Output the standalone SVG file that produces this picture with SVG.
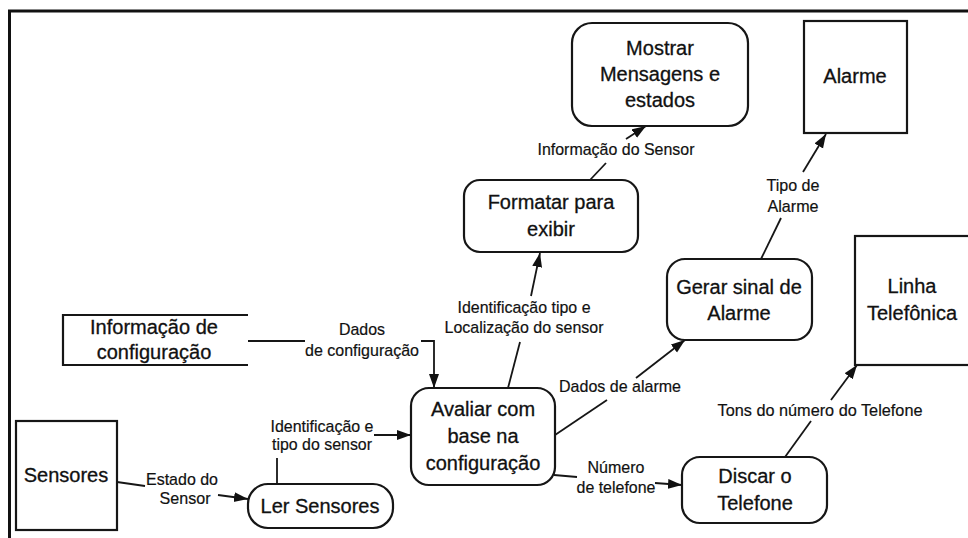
<svg xmlns="http://www.w3.org/2000/svg" width="968" height="538" viewBox="0 0 968 538">
<style>
.frame{stroke:#111;stroke-width:3;fill:none}
.box{fill:#fff;stroke:#161616;stroke-width:2.2}
.nt{font-family:"Liberation Sans",Arial,sans-serif;font-size:20px;text-anchor:middle;fill:#111;stroke:#111;stroke-width:0.3}
.lbl{font-family:"Liberation Sans",Arial,sans-serif;font-size:17px;text-anchor:middle;fill:#111;stroke:#111;stroke-width:0.2}
.c{stroke:#161616;stroke-width:1.8;fill:none}
.ca{stroke:#161616;stroke-width:1.8;fill:none;marker-end:url(#ah)}
</style>
<defs>
<marker id="ah" markerUnits="userSpaceOnUse" markerWidth="15" markerHeight="11" refX="14" refY="5" orient="auto">
<path d="M0,0 L14,5 L0,10 z" fill="#111"/>
</marker>
</defs>
<rect width="968" height="538" fill="#fff"/>
<g id="frame">
<line class="frame" x1="8" y1="11" x2="968" y2="11"/>
<line class="frame" x1="9.5" y1="10" x2="9.5" y2="538"/>
</g>
<g id="connectors">
<line class="c" x1="117" y1="482" x2="145" y2="486"/>
<line class="ca" x1="218" y1="495" x2="248" y2="499"/>
<line class="c" x1="277" y1="484" x2="277" y2="458"/>
<line class="ca" x1="374" y1="435" x2="411" y2="435"/>
<line class="c" x1="248" y1="341" x2="305" y2="341"/>
<polyline class="ca" points="421,341 434,341 434,388"/>
<line class="c" x1="508" y1="388" x2="520" y2="342"/>
<line class="ca" x1="531" y1="296" x2="540" y2="253"/>
<line class="c" x1="590" y1="180" x2="606" y2="163"/>
<line class="ca" x1="626" y1="139" x2="646" y2="126"/>
<line class="c" x1="555" y1="435" x2="607" y2="400"/>
<line class="ca" x1="636" y1="378" x2="685" y2="340"/>
<line class="c" x1="761" y1="259" x2="781" y2="218"/>
<line class="ca" x1="803" y1="172" x2="826" y2="134"/>
<line class="c" x1="554" y1="475" x2="577" y2="477"/>
<line class="ca" x1="655" y1="483" x2="682" y2="485"/>
<line class="c" x1="785" y1="457" x2="811" y2="421"/>
<line class="ca" x1="831" y1="400" x2="857" y2="365"/>
</g>
<g id="labels">
<text class="lbl" x="616" y="155" textLength="157" lengthAdjust="spacingAndGlyphs">Informação do Sensor</text>
<text class="lbl" x="793" y="191" textLength="53" lengthAdjust="spacingAndGlyphs">Tipo de</text>
<text class="lbl" x="793" y="212" textLength="51" lengthAdjust="spacingAndGlyphs">Alarme</text>
<text class="lbl" x="524" y="313" textLength="133" lengthAdjust="spacingAndGlyphs">Identificação tipo e</text>
<text class="lbl" x="524" y="333" textLength="159" lengthAdjust="spacingAndGlyphs">Localização do sensor</text>
<text class="lbl" x="620" y="392" textLength="122" lengthAdjust="spacingAndGlyphs">Dados de alarme</text>
<text class="lbl" x="820" y="416" textLength="205" lengthAdjust="spacingAndGlyphs">Tons do número do Telefone</text>
<text class="lbl" x="616" y="473" textLength="57" lengthAdjust="spacingAndGlyphs">Número</text>
<text class="lbl" x="616" y="493" textLength="79" lengthAdjust="spacingAndGlyphs">de telefone</text>
<text class="lbl" x="362" y="335" textLength="46" lengthAdjust="spacingAndGlyphs">Dados</text>
<text class="lbl" x="362" y="356" textLength="114" lengthAdjust="spacingAndGlyphs">de configuração</text>
<text class="lbl" x="322" y="432" textLength="103" lengthAdjust="spacingAndGlyphs">Identificação e</text>
<text class="lbl" x="322" y="450" textLength="100" lengthAdjust="spacingAndGlyphs">tipo do sensor</text>
<text class="lbl" x="182" y="485" textLength="72" lengthAdjust="spacingAndGlyphs">Estado do</text>
<text class="lbl" x="185" y="504" textLength="51" lengthAdjust="spacingAndGlyphs">Sensor</text>
</g>
<g id="mostrar">
<rect class="box" x="572" y="23" width="176" height="103" rx="20"/>
<text class="nt" x="660" y="55">Mostrar</text>
<text class="nt" x="660" y="81">Mensagens e</text>
<text class="nt" x="660" y="107">estados</text>
</g>
<g id="alarme">
<rect class="box" x="804" y="21" width="103" height="112"/>
<text class="nt" x="855" y="83">Alarme</text>
</g>
<g id="formatar">
<rect class="box" x="464" y="180" width="174" height="72" rx="16"/>
<text class="nt" x="551" y="209">Formatar para</text>
<text class="nt" x="551" y="236">exibir</text>
</g>
<g id="gerar">
<rect class="box" x="667" y="259" width="145" height="81" rx="18"/>
<text class="nt" x="739" y="294">Gerar sinal de</text>
<text class="nt" x="739" y="320">Alarme</text>
</g>
<g id="linha">
<rect class="box" x="855" y="236" width="130" height="129"/>
<text class="nt" x="912" y="293">Linha</text>
<text class="nt" x="912" y="320">Telefônica</text>
</g>
<g id="info-config">
<polyline class="box" fill="none" points="248,315 63,315 63,365 248,365"/>
<text class="nt" x="154" y="334">Informação de</text>
<text class="nt" x="154" y="359">configuração</text>
</g>
<g id="sensores">
<rect class="box" x="16" y="421" width="101" height="109"/>
<text class="nt" x="66" y="482">Sensores</text>
</g>
<g id="ler">
<rect class="box" x="248" y="484" width="145" height="44" rx="20"/>
<text class="nt" x="320" y="513">Ler Sensores</text>
</g>
<g id="avaliar">
<rect class="box" x="411" y="388" width="144" height="97" rx="18"/>
<text class="nt" x="483" y="416">Avaliar com</text>
<text class="nt" x="483" y="443">base na</text>
<text class="nt" x="483" y="470">configuração</text>
</g>
<g id="discar">
<rect class="box" x="682" y="457" width="145" height="66" rx="18"/>
<text class="nt" x="755" y="483">Discar o</text>
<text class="nt" x="755" y="510">Telefone</text>
</g>
</svg>
